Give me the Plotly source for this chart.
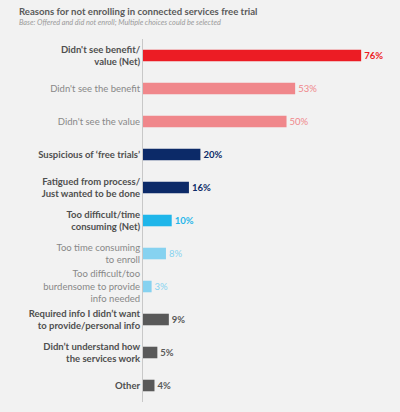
import plotly.graph_objects as go

# reasons, top to bottom
reasons = [
    "Didn't see benefit/<br>value (Net)",
    "Didn't see the benefit",
    "Didn't see the value",
    "Suspicious of \u2018free trials\u2019",
    "Fatigued from process/<br>Just wanted to be done",
    "Too difficult/time<br>consuming (Net)",
    "Too time consuming<br>to enroll",
    "Too difficult/too<br>burdensome to provide<br>info needed",
    "Required info I didn\u2019t want<br>to provide/personal info",
    "Didn\u2019t understand how<br>the services work",
    "Other",
]
values = [76, 53, 50, 20, 16, 10, 8, 3, 9, 5, 4]
bar_colors = ["#ec1c24", "#f0878b", "#f0878b", "#0c2a68", "#0c2a68", "#1fb6ea",
              "#86d2f0", "#86d2f0", "#595959", "#595959", "#595959"]
is_main = [True, False, False, True, True, True, False, False, True, True, True]

title = "Reasons for not enrolling in connected services free trial"
subtitle = "Base: Offered and did not enroll; Multiple choices could be selected"

ids = [str(i) for i in range(len(reasons))]

ticktext = []
for r, m in zip(reasons, is_main):
    if m:
        ticktext.append("<b><span style='color:#4f4f4f'>" + r + "</span></b>")
    else:
        ticktext.append("<span style='color:#888888'>" + r + "</span>")

val_text = []
for v, m in zip(values, is_main):
    s = str(v) + "%"
    val_text.append("<b>" + s + "</b>" if m else s)

W, H = 400, 412
L, R, T, B = 143, 13, 39, 10
pw, ph = W - L - R, H - T - B

fig = go.Figure(go.Bar(
    x=values, y=ids, orientation="h",
    marker=dict(color=bar_colors, line=dict(width=0)),
    width=0.35,
    text=val_text, textposition="outside", cliponaxis=False,
    textfont=dict(color=bar_colors, size=9.5, family="Lato"),
    hoverinfo="skip",
))

fig.update_layout(
    width=W, height=H,
    margin=dict(l=L, r=R, t=T, b=B, autoexpand=False),
    paper_bgcolor="#f2f2f2", plot_bgcolor="#f2f2f2",
    font=dict(family="Lato", size=9.5, color="#4f4f4f"),
    showlegend=False,
    xaxis=dict(range=[0, 85], visible=False, fixedrange=True),
    yaxis=dict(
        tickvals=ids, ticktext=ticktext, fixedrange=True,
        autorange="reversed", showgrid=False, automargin=False,
        showline=True, linecolor="#c8c8c8", linewidth=1,
        ticks="", ticklen=0,
    ),
    annotations=[
        dict(text="<b>" + title + "</b>",
             x=(17 - L) / pw, y=1 + (T - 11) / ph, xref="paper", yref="paper",
             xanchor="left", yanchor="middle", showarrow=False,
             font=dict(size=9.6, color="#5a5a5a")),
        dict(text="<i>" + subtitle + "</i>",
             x=(17 - L) / pw, y=1 + (T - 22) / ph, xref="paper", yref="paper",
             xanchor="left", yanchor="middle", showarrow=False,
             font=dict(size=7.3, color="#9a9a9a")),
    ],
)

# drop the page's default body margin so the figure fills the window
fig.write_html("out.html", config={"displayModeBar": False},
               post_script="document.body.style.margin='0';"
                           "document.body.style.background='#f2f2f2';")
